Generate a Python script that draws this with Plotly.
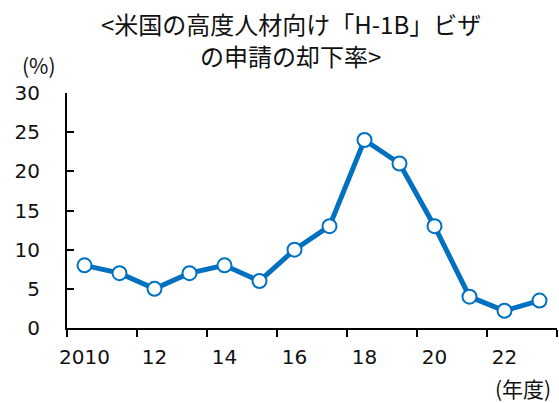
import plotly.graph_objects as go

years = [2010, 2011, 2012, 2013, 2014, 2015, 2016, 2017, 2018, 2019, 2020, 2021, 2022, 2023]
rates = [8, 7, 5, 7, 8, 6, 10, 13, 24, 21, 13, 4, 2.2, 3.5]
label_years = [2010, 2012, 2014, 2016, 2018, 2020, 2022]
label_text = ["2010", "12", "14", "16", "18", "20", "22"]
boundary_ticks = [2009.5, 2011.5, 2013.5, 2015.5, 2017.5, 2019.5, 2021.5, 2023.5]
y_ticks = [0, 5, 10, 15, 20, 25, 30]

title_line1 = "<米国の高度人材向け「H-1B」ビザ"
title_line2 = "の申請の却下率>"
color = "#0070C0"
tick_font = dict(family="DejaVu Sans, Verdana, sans-serif", size=20, color="#111111")
jp_font = "Noto Sans CJK JP"

fig = go.Figure()
fig.add_trace(go.Scatter(
    x=years, y=rates, mode="lines+markers",
    line=dict(color=color, width=5),
    marker=dict(symbol="circle", size=14, color="white", line=dict(color=color, width=2)),
    showlegend=False, cliponaxis=False,
))

fig.update_layout(
    width=559, height=403,
    margin=dict(l=67, r=2, t=93, b=75),
    paper_bgcolor="white", plot_bgcolor="white",
    xaxis=dict(
        range=[2009.5, 2023.5], showgrid=False, zeroline=False, automargin=False,
        showline=True, linecolor="black", linewidth=2,
        tickmode="array", tickvals=label_years, ticktext=label_text,
        ticks="", tickfont=tick_font, ticklabelstandoff=10,
        minor=dict(tickmode="array", tickvals=boundary_ticks, ticks="outside",
                   ticklen=7, tickwidth=2, tickcolor="black", showgrid=False),
    ),
    yaxis=dict(
        range=[0, 30], showgrid=False, zeroline=False, automargin=False,
        showline=True, linecolor="black", linewidth=2,
        tickmode="array", tickvals=y_ticks, ticks="inside", ticklen=7, tickwidth=2,
        tickcolor="black", tickfont=tick_font, ticklabelstandoff=21,
    ),
    annotations=[
        dict(text=title_line1, xref="paper", yref="paper", x=0.457, y=1.2957,
             xanchor="center", yanchor="middle", showarrow=False, borderpad=0,
             font=dict(family=jp_font, size=24, color="#111111")),
        dict(text=title_line2, xref="paper", yref="paper", x=0.457, y=1.1617,
             xanchor="center", yanchor="middle", showarrow=False, borderpad=0,
             font=dict(family=jp_font, size=24, color="#111111")),
        dict(text="(%)", xref="paper", yref="paper", x=-0.057, y=1.119, xanchor="center",
             yanchor="middle", showarrow=False,
             font=dict(family=jp_font, size=21, color="#111111")),
        dict(text="(年度)", xref="paper", yref="paper", x=0.992, y=-0.255, xanchor="right",
             yanchor="middle", showarrow=False,
             font=dict(family=jp_font, size=21, color="#111111")),
    ],
)

fig.write_html("out.html", config={"displayModeBar": False},
               post_script="document.body.style.margin='0';")
